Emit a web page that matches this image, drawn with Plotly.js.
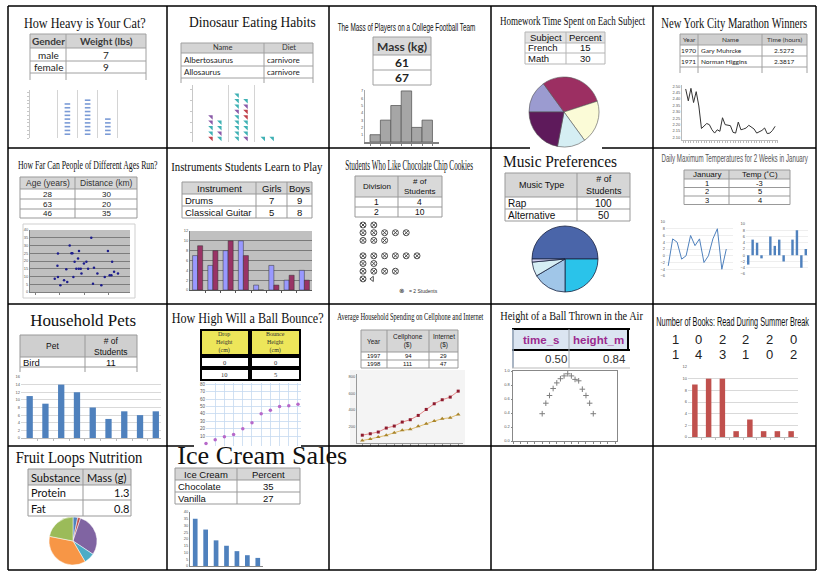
<!DOCTYPE html>
<html><head><meta charset="utf-8">
<script src="https://cdn.plot.ly/plotly-3.0.1.min.js"></script>
<style>html,body{margin:0;padding:0;background:#fff;}#chart{width:825px;height:580px;}</style>
</head><body><div id="chart"></div>
<script>
// ================= DATA =================
const chartTitles = ['How Heavy is Your Cat?', 'Dinosaur Eating Habits', 'The Mass of Players on a College Football Team',
  'Homework Time Spent on Each Subject', 'New York City Marathon Winners', 'How Far Can People of Different Ages Run?',
  'Instruments Students Learn to Play', 'Students Who Like Chocolate Chip Cookies', 'Music Preferences',
  'Daily Maximum Temperatures for 2 Weeks in January', 'Household Pets', 'How High Will a Ball Bounce?',
  'Average Household Spending on Cellphone and Internet', 'Height of a Ball Thrown in the Air',
  'Number of Books: Read During Summer Break', 'Fruit Loops Nutrition', 'Ice Cream Sales'];

// 1 cat
const catHeader = ['Gender', 'Weight (lbs)'];
const catGender = ['male', 'female'];
const catWeight = ['7', '9'];
const catDotCounts = [9, 10, 5];
// 2 dinosaurs
const dinoHeader = ['Name', 'Diet'];
const dinoNames = ['Albertosaurus', 'Allosaurus'];
const dinoDiets = ['carnivore', 'carnivore'];
const dinoGroup1 = ['r','t','t','p','t','t','p','t','p'];
const dinoGroup2 = ['t','p','t','t','t','t','t','t','t','r','p','r','t','p','t','t','t'];
const dinoGroup3 = ['t','t'];
// 3 football mass
const massHeader = ['Mass (kg)'];
const massValues = ['61', '67'];
const massBinCounts = [1, 3, 5, 7, 2, 3];
// 4 homework
const hwHeader = ['Subject', 'Percent'];
const hwSubjects = ['French', 'Math', 'English', 'Science', 'History'];
const hwPercents = [15, 30, 20, 13, 22];
// 5 marathon
const maraHeader = ['Year', 'Name', 'Time (hours)'];
const maraYearsT = ['1970', '1971'];
const maraNames = ['Gary Muhrcke', 'Norman Higgins'];
const maraTimesT = ['2.5272', '2.3817'];
const maraTimes = [2.479, 2.386, 2.484, 2.373, 2.458, 2.346, 2.170, 2.187, 2.209, 2.200, 2.160, 2.134, 2.160, 2.148, 2.254,
  2.200, 2.195, 2.192, 2.140, 2.134, 2.220, 2.160, 2.166, 2.174, 2.195, 2.180, 2.166, 2.134, 2.142, 2.155, 2.174, 2.130, 2.134, 2.155, 2.187];
// 6 running
const runHeader = ['Age (years)', 'Distance (km)'];
const runAgesT = ['28', '63', '46'];
const runDistT = ['30', '20', '35'];
const runAges = [27.9, 29.0, 29.2, 29.2, 30.2, 31.7, 32.6, 33.0, 34.0, 34.7, 35.1, 35.5, 36.0, 36.7, 37.4, 37.7, 37.8,
  38.5, 38.8, 39.8, 40.8, 41.5, 42.8, 43.5, 43.9, 45.3, 46.9, 48.3, 49.6, 50.3, 51.0, 51.3, 52.1, 53.7];
const runDist = [8.6, 16.9, 24.9, 9.7, 4.3, 7.6, 14.7, 6.5, 30, 25, 25, 9.7, 19.5, 15, 21.6, 15, 26.4,
  15, 12, 18.4, 19.5, 15, 35, 5.4, 15.6, 12, 4.3, 9.7, 26.4, 10.8, 10.8, 19.5, 13, 11.9];
// 7 instruments
const instHeader = ['Instrument', 'Girls', 'Boys'];
const instNames = ['Drums', 'Classical Guitar', 'Piano', 'Electric Guitar', 'Flute', 'Violin', 'Trumpet', 'Clarinet'];
const instGirls = [7, 5, 8, 10, 1, 5, 2, 4];
const instBoys = [9, 8, 10, 7, 0, 1, 3, 2];
// 8 cookies
const cookieHeader = ['Division', '# of<br>Students'];
const cookieDivisions = [1, 2, 3, 4, 5, 6, 7, 8];
const cookieStudents = [4, 10, 6, 0, 12, 4, 8, 3];
const cookieKey = '= 2 Students';
// 9 music
const musicHeader = ['Music Type', '# of<br>Students'];
const musicTypes = ['Rap', 'Alternative', 'Rock', 'Pop', 'Country'];
const musicStudents = [100, 50, 33, 14, 3];
// 10 temperatures
const tempHeader = ['January', 'Temp (˚C)'];
const tempDays = [1, 2, 3, 4, 5, 6, 7, 8, 9, 10, 11, 12, 13, 14];
const tempValues = [-3, 5, 4, -1, 0, 6, 3, 5, -2, 0, 5, 8, -4, 2];
// 11 pets
const petHeader = ['Pet', '# of<br>Students'];
const petNames = ['Bird', 'Cat', 'Dog', 'Fish', 'Hamster', 'Rabbit', 'Snake', 'Turtle', 'Lizard'];
const petCounts = [11, 9, 14, 12, 8, 5, 7, 6, 7];
// 12 bounce
const bounceHeader = ['Drop<br>Height<br>(cm)', 'Bounce<br>Height<br>(cm)'];
const dropHeights = [0, 10, 20, 30, 40, 50, 60, 70, 80, 90, 100];
const bounceHeights = [0, 5, 9, 12, 20, 28, 40, 45, 50, 51, 53];
// 13 spending
const spendHeader = ['Year', 'Cellphone<br>($)', 'Internet<br>($)'];
const spendYears = [1997, 1998, 1999, 2000, 2001, 2002, 2003, 2004, 2005, 2006, 2007, 2008, 2009];
const spendCell = [94, 111, 132, 180, 204, 252, 280, 332, 404, 472, 520, 552, 624];
const spendNet = [29, 47, 72, 92, 124, 152, 164, 200, 232, 264, 292, 304, 344];
// 14 thrown ball
const throwHeader = ['time_s', 'height_m'];
const throwTimeT = ['0.50'];
const throwHeightT = ['0.84'];
const throwTimes = [0.8, 0.9, 1.0, 1.1, 1.2, 1.3, 1.4, 1.5, 1.6, 1.7, 1.8, 1.9, 2.0, 2.1, 2.2];
const throwHeights = [0.39, 0.54, 0.65, 0.75, 0.83, 0.89, 0.93, 0.96, 0.93, 0.88, 0.86, 0.74, 0.65, 0.54, 0.39];
// 15 books
const booksRead = [1, 0, 2, 2, 2, 0, 1, 4, 3, 1, 0, 2];
const bookBins = [0, 1, 2, 3, 4, 5, 6, 7];
const bookFreq = [9, 10, 10, 1, 3, 1, 1, 1];
// 16 fruit loops
const fruitHeader = ['Substance', 'Mass (g)'];
const fruitSubst = ['Protein', 'Fat', 'Sugar', 'Fiber', 'Starch', 'Other'];
const fruitMass = [1.3, 0.8, 12, 3, 15, 9];
// 17 ice cream
const iceHeader = ['Ice Cream', 'Percent'];
const iceFlavors = ['Chocolate', 'Vanilla', 'Strawberry', 'Mint', 'Cookie Dough', 'Coffee', 'Rocky Road'];
const icePercents = [35, 27, 19, 15, 11, 8, 6];

// ================= HELPERS =================
const W = 825, H = 580;
const X = p => p / W;
const Y = p => 1 - p / H;
const SERIF = '"Liberation Serif", "Times New Roman", serif';
const SANS = '"Liberation Sans", Arial, sans-serif';
const LATO = 'Lato, "Open Sans", sans-serif';
const shapes = [], annotations = [], traces = [];
const layout = {width: W, height: H, margin: {l: 0, r: 0, t: 0, b: 0}, paper_bgcolor: '#ffffff',
  plot_bgcolor: 'rgba(0,0,0,0)', showlegend: false, barmode: 'overlay', font: {family: SANS}, shapes, annotations};

function rect(x0, y0, x1, y1, fill, lc, lw, layer) {
  return {type: 'rect', xref: 'paper', yref: 'paper', x0: X(x0), x1: X(x1), y0: Y(y0), y1: Y(y1),
    fillcolor: fill || 'rgba(0,0,0,0)', line: {color: lc || 'rgba(0,0,0,0)', width: lc ? (lw || 1) : 0}, layer: layer || 'above'};
}
function seg(x0, y0, x1, y1, c, w) {
  return {type: 'line', xref: 'paper', yref: 'paper', x0: X(x0), x1: X(x1), y0: Y(y0), y1: Y(y1), line: {color: c, width: w || 1}, layer: 'above'};
}
function note(text, x, y, font, xanchor) {
  annotations.push({text: String(text), x: X(x), y: Y(y), xref: 'paper', yref: 'paper', xanchor: xanchor || 'center',
    yanchor: 'middle', showarrow: false, borderpad: 0, borderwidth: 0, font});
  return annotations.length - 1;
}
function addTable(t) {
  const xs = [t.x]; t.w.forEach(w => xs.push(xs[xs.length - 1] + w));
  const ys = [t.y]; t.h.forEach(h => ys.push(ys[ys.length - 1] + h));
  const x1 = xs[xs.length - 1], y1 = ys[ys.length - 1];
  shapes.push(rect(t.x, ys[0], x1, ys[1], t.hfill));
  ys.forEach((y, i) => { if (!(t.open && i === ys.length - 1)) shapes.push(seg(t.x, y, x1, y, t.line, t.lw)); });
  xs.forEach(x => shapes.push(seg(x, t.y, x, y1, t.line, t.lw)));
  t.cols.forEach((col, c) => col.forEach((txt, r) => {
    if (r >= t.h.length) return;
    const isH = r === 0;
    const al = isH ? (t.halign ? t.halign[c] : 'c') : t.align[c];
    let ax, xa;
    if (al === 'l') { ax = xs[c] + 2.5; xa = 'left'; }
    else if (al === 'r') { ax = xs[c + 1] - 2.5; xa = 'right'; }
    else { ax = (xs[c] + xs[c + 1]) / 2; xa = 'center'; }
    const s = (isH && t.hbold) ? '<b>' + txt + '</b>' : String(txt);
    note(s, ax, (ys[r] + ys[r + 1]) / 2, isH ? t.hfont : t.font, xa);
  }));
}
function baseAxis(extra) {
  return Object.assign({showgrid: false, zeroline: false, showticklabels: false, ticks: '', showline: false,
    fixedrange: true, tickfont: {size: 4, color: '#555', family: SANS}}, extra || {});
}
function sub(n, xd, yd, xa, ya) {
  const s = n === 1 ? '' : String(n);
  layout['xaxis' + s] = Object.assign(baseAxis(xa), {domain: [X(xd[0]), X(xd[1])], anchor: 'y' + s});
  layout['yaxis' + s] = Object.assign(baseAxis(ya), {domain: [Y(yd[1]), Y(yd[0])], anchor: 'x' + s});
  return {xaxis: 'x' + s, yaxis: 'y' + s};
}

// ================= GRID =================
[8, 167, 329, 491, 653, 816].forEach(x => shapes.push(seg(x, 6, x, 570, '#000', 1.5)));
shapes.push(seg(8, 6, 816, 6, '#000', 1.5));
shapes.push(seg(8, 148, 530, 148, '#000', 1.5)); shapes.push(seg(602, 148, 816, 148, '#000', 1.5));
shapes.push(seg(8, 304, 816, 304, '#000', 1.5));
shapes.push(seg(8, 446, 194, 446, '#000', 1.5)); shapes.push(seg(301, 446, 816, 446, '#000', 1.5));
shapes.push(seg(8, 570, 816, 570, '#000', 1.5));

// ================= TITLES =================
const titleSpec = [
  [85, 23, 14, SERIF, 122, '#111'], [253, 22, 15, SERIF, 127, '#111'], [406, 27, 11, SANS, 138, '#111'],
  [573, 21, 11.5, SERIF, 146, '#111'], [734, 23, 14, SERIF, 146, '#111'], [88, 164, 13, SERIF, 140, '#111'],
  [247, 167, 12.5, SERIF, 152, '#111'], [409, 165, 15, SERIF, 128, '#111'], [560, 161, 17, SERIF, 114, '#111'],
  [734, 158.5, 10, SANS, 147, '#555'], [83, 320, 17, SERIF, 106, '#111'], [247, 318, 14, SERIF, 152, '#111'],
  [410, 316, 11, SERIF, 146, '#111'], [571.5, 316, 11.5, SERIF, 143, '#111'], [732.5, 321, 13, SANS, 153, '#111'],
  [78.5, 457, 16.5, SERIF, 127, '#111'], [262, 457, 21, SERIF, 170, '#111']];
const fitList = [];
chartTitles.forEach((t, i) => {
  const s = titleSpec[i];
  const idx = note(t, s[0], s[1], {family: s[3], size: s[2], color: s[5]});
  fitList.push([idx, s[4], s[2]]);
});

// ================= TABLES =================
const gl = '#a0a0a0';
addTable({x: 30, y: 34, w: [36, 80], h: [14, 13, 12, 7], open: true, hfill: '#d4d4d4', line: gl,
  cols: [[catHeader[0], ...catGender], [catHeader[1], ...catWeight]], align: ['c', 'c'], hbold: true,
  font: {family: LATO, size: 10, color: '#222'}, hfont: {family: LATO, size: 10, color: '#3a3a3a'}});
addTable({x: 181, y: 43, w: [83, 49], h: [10, 13, 12, 5], open: true, hfill: '#d4d4d4', line: gl,
  cols: [[dinoHeader[0], ...dinoNames], [dinoHeader[1], ...dinoDiets]], align: ['l', 'l'],
  font: {family: LATO, size: 8, color: '#222'}, hfont: {family: LATO, size: 7.5, color: '#333'}});
addTable({x: 373, y: 37, w: [58], h: [18, 15, 15], hfill: '#d9d9d9', line: gl, hbold: true,
  cols: [[massHeader[0], ...massValues.map(v => '<b>' + v + '</b>')]], align: ['c'],
  font: {family: LATO, size: 12, color: '#222'}, hfont: {family: LATO, size: 12, color: '#333'}});
addTable({x: 525, y: 32, w: [41, 39], h: [11, 10, 11], hfill: '#e3e3e3', line: '#b5b5b5',
  cols: [[hwHeader[0], ...hwSubjects.slice(0, 2)], [hwHeader[1], ...hwPercents.slice(0, 2)]], align: ['l', 'c'],
  font: {family: SANS, size: 9.5, color: '#111'}, hfont: {family: SANS, size: 9.5, color: '#111'}});
addTable({x: 680, y: 34, w: [18, 64, 45], h: [11, 11, 11, 6], open: true, hfill: '#cfcfcf', line: gl,
  cols: [[maraHeader[0], ...maraYearsT], [maraHeader[1], ...maraNames], [maraHeader[2], ...maraTimesT]], align: ['r', 'l', 'c'],
  font: {family: LATO, size: 6.5, color: '#222'}, hfont: {family: LATO, size: 6.5, color: '#333'}});
addTable({x: 20, y: 177, w: [55, 62], h: [12, 10, 10, 9], hfill: '#d6d6d6', line: '#999',
  cols: [[runHeader[0], ...runAgesT], [runHeader[1], ...runDistT]], align: ['c', 'c'],
  font: {family: SANS, size: 8, color: '#222'}, hfont: {family: SANS, size: 8.5, color: '#333'}});
addTable({x: 182, y: 182, w: [74, 31, 25], h: [12, 12, 12], hfill: '#d6d6d6', line: '#999',
  cols: [[instHeader[0], ...instNames.slice(0, 2)], [instHeader[1], ...instGirls.slice(0, 2)], [instHeader[2], ...instBoys.slice(0, 2)]],
  align: ['l', 'c', 'c'], font: {family: SANS, size: 9.5, color: '#111'}, hfont: {family: SANS, size: 9.5, color: '#111'}});
addTable({x: 355, y: 176, w: [43, 44], h: [21, 10, 10], hfill: '#d9d9d9', line: '#999',
  cols: [[cookieHeader[0], ...cookieDivisions.slice(0, 2)], [cookieHeader[1], ...cookieStudents.slice(0, 2)]], align: ['c', 'c'],
  font: {family: SANS, size: 8.5, color: '#111'}, hfont: {family: SANS, size: 8, color: '#111'}});
addTable({x: 505, y: 173, w: [72, 53], h: [24, 12, 12], hfill: '#d6d6d6', line: '#999',
  cols: [[musicHeader[0], ...musicTypes.slice(0, 2)], [musicHeader[1], ...musicStudents.slice(0, 2)]], align: ['l', 'c'],
  font: {family: SANS, size: 10, color: '#111'}, hfont: {family: SANS, size: 9, color: '#111'}});
addTable({x: 684, y: 170, w: [45, 61], h: [9, 8.5, 8.5, 8.5], hfill: '#d6d6d6', line: '#999',
  cols: [[tempHeader[0], ...tempDays.slice(0, 3)], [tempHeader[1], ...tempValues.slice(0, 3)]], align: ['c', 'c'],
  font: {family: SANS, size: 7.5, color: '#111'}, hfont: {family: SANS, size: 8, color: '#111'}});
addTable({x: 20, y: 335, w: [65, 52], h: [22, 10, 5], open: true, hfill: '#cfcfcf', line: '#999',
  cols: [[petHeader[0], petNames[0]], [petHeader[1], petCounts[0]]], align: ['l', 'c'],
  font: {family: SANS, size: 9.5, color: '#111'}, hfont: {family: SANS, size: 8.5, color: '#111'}});
addTable({x: 361, y: 330, w: [26, 42, 29], h: [22, 8, 8], hfill: '#d6d6d6', line: '#999',
  cols: [[spendHeader[0], ...spendYears.slice(0, 2)], [spendHeader[1], ...spendCell.slice(0, 2)], [spendHeader[2], ...spendNet.slice(0, 2)]],
  align: ['c', 'c', 'c'], font: {family: SANS, size: 6, color: '#111'}, hfont: {family: SANS, size: 6.5, color: '#222'}});
addTable({x: 28, y: 469, w: [55, 48], h: [16, 15, 16], hfill: '#d6d6d6', line: '#999',
  cols: [[fruitHeader[0], ...fruitSubst.slice(0, 2)], [fruitHeader[1], ...fruitMass.slice(0, 2)]], align: ['l', 'r'],
  font: {family: LATO, size: 11, color: '#111'}, hfont: {family: LATO, size: 11, color: '#111'}});
addTable({x: 175, y: 468, w: [62, 63], h: [12, 12, 12], hfill: '#d6d6d6', line: '#999',
  cols: [[iceHeader[0], ...iceFlavors.slice(0, 2)], [iceHeader[1], ...icePercents.slice(0, 2)]], align: ['l', 'c'],
  font: {family: SANS, size: 9.5, color: '#111'}, hfont: {family: SANS, size: 9.5, color: '#111'}});

// bounce table (boxed cells)
function boxCell(x0, y0, x1, y1, fill, txt, size) {
  shapes.push(rect(x0, y0, x1, y1, fill, '#000', 2));
  note(txt, (x0 + x1) / 2, (y0 + y1) / 2, {family: SERIF, size, color: '#333'});
}
boxCell(201, 330, 249, 355, '#ede65a', bounceHeader[0], 6);
boxCell(251, 330, 300, 355, '#ede65a', bounceHeader[1], 6);
boxCell(201, 357, 249, 367, '#fff', dropHeights[0], 6.5);
boxCell(251, 357, 300, 367, '#fff', bounceHeights[0], 6.5);
boxCell(201, 369, 249, 380, '#fff', dropHeights[1], 6.5);
boxCell(251, 369, 300, 380, '#fff', bounceHeights[1], 6.5);

// thrown ball table
shapes.push(rect(512, 329, 629, 350, '#dbe5f1'));
shapes.push(seg(512, 329, 630, 329, '#000', 2));
shapes.push(seg(512, 350, 630, 350, '#000', 2));
shapes.push(seg(569, 329, 569, 368, '#a0a8b0', 1));
shapes.push(seg(628, 329, 628, 350, '#000', 2));
shapes.push(seg(513, 329, 513, 368, '#8c9cb0', 1.5));
shapes.push(seg(512, 368, 630, 368, '#bbb', 1));
note('<b>' + throwHeader[0] + '</b>', 540.5, 339.5, {family: SANS, size: 11.5, color: '#9b2a8f'});
note('<b>' + throwHeader[1] + '</b>', 598.5, 339.5, {family: SANS, size: 11.5, color: '#9b2a8f'});
note(throwTimeT[0], 567, 359, {family: SANS, size: 11.5, color: '#333'}, 'right');
note(throwHeightT[0], 626, 359, {family: SANS, size: 11.5, color: '#333'}, 'right');

// books raw numbers
booksRead.forEach((v, i) => {
  note(v, 675 + (i % 6) * 23.6, i < 6 ? 340 : 355, {family: SANS, size: 13, color: '#222'});
});

// cookie key
note('⊗', 401, 291, {family: 'DejaVu Sans', size: 6.5, color: '#333'});
note(cookieKey, 409, 291, {family: SANS, size: 5, color: '#333'}, 'left');

// ================= CHARTS =================
const skip = {hoverinfo: 'skip'};
// 1 cat dot plot
let a = sub(1, [30, 123], [90, 138], {range: [-0.85, 3.75], tickvals: [0.5, 1.5, 2.5, 3.5], showgrid: true, gridcolor: '#d4d4d4', gridwidth: 1},
  {range: [0, 12.7], showline: true, linecolor: '#c8c8c8', ticks: 'outside', ticklen: 2, tickcolor: '#c8c8c8', dtick: 1});
const catX = [], catY = [];
catDotCounts.forEach((n, i) => { for (let k = 1; k <= n; k++) { catX.push(i + 1); catY.push(k); } });
traces.push(Object.assign({type: 'scatter', mode: 'markers', x: catX, y: catY, marker: {symbol: 'line-ew', size: 4, line: {width: 1.6, color: '#7b9bd6'}}}, a, skip));

// 2 dino pictograph
a = sub(2, [193, 281], [85, 142], {range: [0.135, 3.5], tickvals: [1.5, 2.5, 3.5], showgrid: true, gridcolor: '#d4d4d4'},
  {range: [0.315, 10.87], showline: true, linecolor: '#c8c8c8', ticks: 'outside', ticklen: 2, tickcolor: '#c8c8c8', dtick: 2});
const dinoColorMap = {t: '#3fb1b4', p: '#8a5aa8', r: '#c0404a'};
const dX = [], dY = [], dC = [];
[dinoGroup1, dinoGroup2, dinoGroup3].forEach((arr, g) => arr.forEach((c, k) => {
  dX.push(g + 1 + (k % 2 === 0 ? -0.17 : 0.17)); dY.push(Math.floor(k / 2) + 1); dC.push(dinoColorMap[c]);
}));
traces.push(Object.assign({type: 'scatter', mode: 'markers', x: dX, y: dY, marker: {symbol: 'triangle-ne', size: 5, color: dC}}, a, skip));

// 3 mass histogram
a = sub(3, [365, 439], [90, 142], {range: [0.02, 7.13], showline: true, linecolor: '#808080', linewidth: 2, ticks: 'outside', ticklen: 2, tickcolor: '#808080', tickvals: [0.5, 1.5, 2.5, 3.5, 4.5, 5.5, 6.5]},
  {range: [0, 7.13], showline: true, linecolor: '#aaa', showticklabels: true, dtick: 1, tickvals: [1, 2, 3, 4, 5, 6, 7]});
traces.push(Object.assign({type: 'bar', x: [1, 2, 3, 4, 5, 6], y: massBinCounts, width: 1, marker: {color: '#a6a6a6', line: {color: '#5a5a5a', width: 0.8}}}, a, skip));

// 4 homework pie
traces.push({type: 'pie', labels: hwSubjects, values: hwPercents, sort: false, direction: 'clockwise', rotation: -90,
  textinfo: 'none', hoverinfo: 'skip', domain: {x: [X(529), X(599)], y: [Y(147), Y(77)]},
  marker: {colors: ['#9b9bd0', '#9c2f62', '#fbfbd7', '#d5eef3', '#5e1a5b'], line: {color: '#555', width: 0.6}}});

// 5 marathon line
a = sub(4, [682, 778], [85, 140], {range: [1968.6, 2005.1], showline: true, linecolor: '#bbb', ticks: 'outside', ticklen: 1.5, tickcolor: '#bbb', dtick: 1},
  {range: [2.08, 2.51], showline: true, linecolor: '#bbb', showticklabels: true, dtick: 0.05, tick0: 2.1, tickformat: '.2f'});
traces.push(Object.assign({type: 'scatter', mode: 'lines', x: maraTimes.map((_, i) => 1970 + i), y: maraTimes, line: {color: '#333', width: 1}}, a, skip));

// 6 running scatter
shapes.push(rect(23, 224, 135, 298, '#fff', '#cfcfcf', 1, 'below'));
shapes.push(rect(30, 230, 130, 292, '#c0c0c0', null, 0, 'below'));
a = sub(5, [30, 130], [230, 292], {range: [17.8, 58.6], showline: true, linecolor: '#808080', ticks: 'outside', ticklen: 2, tickcolor: '#808080', dtick: 10},
  {range: [0, 40], dtick: 5, showgrid: true, gridcolor: '#3a3a3a', gridwidth: 0.5, showticklabels: true, showline: true, linecolor: '#808080'});
traces.push(Object.assign({type: 'scatter', mode: 'markers', x: runAges, y: runDist, marker: {size: 2.5, color: '#1c1c8c'}}, a, skip));

// 7 instruments grouped bars
shapes.push(rect(190, 231, 312, 290, '#c0c0c0', null, 0, 'below'));
a = sub(6, [190, 312], [231, 290], {range: [-0.5, 7.5], showline: true, linecolor: '#555', ticks: 'outside', ticklen: 2, tickcolor: '#555', tickvals: [0.5, 1.5, 2.5, 3.5, 4.5, 5.5, 6.5]},
  {range: [0, 12], dtick: 2, showgrid: true, gridcolor: '#333', gridwidth: 0.5, showticklabels: true, showline: true, linecolor: '#777'});
const instIdx = instNames.map((_, i) => i);
traces.push(Object.assign({type: 'bar', x: instIdx, y: instGirls, offset: -0.33, width: 0.33, marker: {color: '#9999ff', line: {color: '#333', width: 0.5}}}, a, skip));
traces.push(Object.assign({type: 'bar', x: instIdx, y: instBoys, offset: 0, width: 0.33, marker: {color: '#993366', line: {color: '#333', width: 0.5}}}, a, skip));

// 8 cookie pictograph
a = sub(7, [355, 442], [220, 295], {range: [-0.74, 7.31]}, {range: [10.09, 0.35]});
const ckX = [], ckY = [], hkX = [], hkY = [];
cookieStudents.forEach((n, i) => {
  const full = Math.floor(n / 2);
  for (let c = 0; c < full; c++) { ckX.push(c); ckY.push(cookieDivisions[i]); }
  if (n % 2) { hkX.push(full - 0.15); hkY.push(cookieDivisions[i]); }
});
traces.push(Object.assign({type: 'scatter', mode: 'markers', x: ckX, y: ckY, marker: {symbol: 'circle-x', size: 6, color: '#fff', line: {color: '#3a3a3a', width: 0.9}}}, a, skip));
traces.push(Object.assign({type: 'scatter', mode: 'markers', x: hkX, y: hkY, marker: {symbol: 'triangle-left', size: 4.5, color: '#fff', line: {color: '#3a3a3a', width: 0.9}}}, a, skip));

// 9 music pie
traces.push({type: 'pie', labels: musicTypes, values: musicStudents, sort: false, direction: 'clockwise', rotation: -90,
  textinfo: 'none', hoverinfo: 'skip', domain: {x: [X(532), X(598)], y: [Y(292), Y(226)]},
  marker: {colors: ['#4a65a9', '#2ac3ea', '#a0c6e8', '#d6eef5', '#cfcdee'], line: {color: '#1a2340', width: 0.8}}});

// 10 temperatures line + bars
a = sub(8, [666, 733], [222, 276], {range: [0.5, 15.5]},
  {range: [-6, 10], dtick: 2, showgrid: true, gridcolor: '#dedede', gridwidth: 0.5, showticklabels: true});
traces.push(Object.assign({type: 'scatter', mode: 'lines', x: tempDays, y: tempValues, line: {color: '#4f81bd', width: 1}}, a, skip));
a = sub(9, [746, 808], [224, 274], {range: [0.5, 14.5]},
  {range: [-6, 10], dtick: 2, showgrid: true, gridcolor: '#dedede', gridwidth: 0.5, showticklabels: true});
traces.push(Object.assign({type: 'bar', x: tempDays, y: tempValues, width: 0.55, marker: {color: '#4f81bd'}}, a, skip));

// 11 pets bars
a = sub(10, [21, 161], [377, 438], {range: [-0.55, 8.33], showline: true, linecolor: '#bbb', ticks: 'outside', ticklen: 2, tickcolor: '#bbb', tickvals: [0.5, 1.5, 2.5, 3.5, 4.5, 5.5, 6.5, 7.5]},
  {range: [0, 16], dtick: 2, showgrid: true, gridcolor: '#d9d9d9', showticklabels: true});
traces.push(Object.assign({type: 'bar', x: petNames.map((_, i) => i), y: petCounts, width: 0.4, marker: {color: '#4f81bd'}}, a, skip));

// 12 bounce scatter
a = sub(11, [206, 301], [383, 446], {range: [0, 103.3], dtick: 10, showgrid: true, gridcolor: '#c6daf0', gridwidth: 0.8},
  {range: [-3.5, 81.8], dtick: 10, showgrid: true, gridcolor: '#c6daf0', gridwidth: 0.8, showticklabels: true, tickvals: [10, 20, 30, 40, 50, 60, 70, 80], tickfont: {size: 4.5, color: '#555', family: SANS}});
traces.push(Object.assign({type: 'scatter', mode: 'markers', x: dropHeights, y: bounceHeights, cliponaxis: false, marker: {size: 3.5, color: '#b668c9'}}, a, skip));

// 13 spending lines
shapes.push(rect(350, 370, 465, 446, '#f4f4f4', null, 0, 'below'));
a = sub(12, [357, 463], [374, 443], {range: [1996.34, 2009.6], showline: true, linecolor: '#999', ticks: 'outside', ticklen: 2, tickcolor: '#999', dtick: 1},
  {range: [0, 830], showline: true, linecolor: '#999', showticklabels: true, tickvals: [200, 400, 600, 800]});
traces.push(Object.assign({type: 'scatter', mode: 'lines+markers', x: spendYears, y: spendCell, line: {color: '#e48a8a', width: 1}, marker: {symbol: 'square', size: 3, color: '#8e1b2e'}}, a, skip));
traces.push(Object.assign({type: 'scatter', mode: 'lines+markers', x: spendYears, y: spendNet, line: {color: '#dfbd6f', width: 1}, marker: {symbol: 'triangle-up', size: 4, color: '#a8842a'}}, a, skip));

// 14 thrown ball scatter
a = sub(13, [513, 617], [371, 441], {range: [0, 2.85], showline: true, mirror: true, linecolor: '#888', ticks: 'outside', ticklen: 1.5, tickcolor: '#888', dtick: 0.2},
  {range: [0, 1], dtick: 0.2, showline: true, mirror: true, linecolor: '#888', showticklabels: true, tickformat: '.1f', ticks: 'outside', ticklen: 1.5, tickcolor: '#888'});
traces.push(Object.assign({type: 'scatter', mode: 'markers', x: throwTimes, y: throwHeights, marker: {symbol: 'cross-thin-open', size: 4, line: {color: '#444', width: 1}}}, a, skip));

// 15 books bars
a = sub(14, [688, 798], [367, 437], {range: [-0.5, 7.5], showline: true, linecolor: '#bbb', ticks: 'outside', ticklen: 2, tickcolor: '#bbb', tickvals: [0.5, 1.5, 2.5, 3.5, 4.5, 5.5, 6.5]},
  {range: [0, 12], dtick: 2, showgrid: true, gridcolor: '#d9d9d9', showticklabels: true});
traces.push(Object.assign({type: 'bar', x: bookBins, y: bookFreq, width: 0.4, marker: {color: '#c0504d'}}, a, skip));

// 16 fruit loops pie
traces.push({type: 'pie', labels: fruitSubst, values: fruitMass, sort: false, direction: 'clockwise', rotation: 0,
  textinfo: 'none', hoverinfo: 'skip', domain: {x: [X(49), X(97)], y: [Y(565), Y(517)]},
  marker: {colors: ['#4f81bd', '#c0504d', '#8064a2', '#4bacc6', '#f79646', '#9bbb59'], line: {color: '#fff', width: 0.5}}});

// 17 ice cream bars
a = sub(15, [190, 263], [512, 566], {range: [-0.5, 6.5], showline: true, linecolor: '#888'},
  {range: [0, 40], dtick: 5, showline: true, linecolor: '#888', showticklabels: true});
traces.push(Object.assign({type: 'bar', x: iceFlavors.map((_, i) => i), y: icePercents, width: 0.45, marker: {color: '#4f81bd'}}, a, skip));

// ================= RENDER =================
Plotly.newPlot('chart', traces, layout, {staticPlot: true, displayModeBar: false}).then(gd => {
  fitList.forEach(([idx, target, size]) => {
    const g = gd.querySelector('.annotation[data-index="' + idx + '"]');
    const t = g && g.querySelector('text.annotation-text');
    if (!t) return;
    let w = t.getBBox().width;
    if (!(w > 0)) return;
    let s = target / w;
    if (s > 1.04) {
      t.style.fontSize = (size * Math.pow(s, 0.7)).toFixed(2) + 'px';
      w = t.getBBox().width;
      s = target / w;
    }
    t.style.transformBox = 'fill-box';
    t.style.transformOrigin = 'center';
    t.style.transform = 'scaleX(' + s.toFixed(3) + ')';
  });
});
</script>
</body></html>
